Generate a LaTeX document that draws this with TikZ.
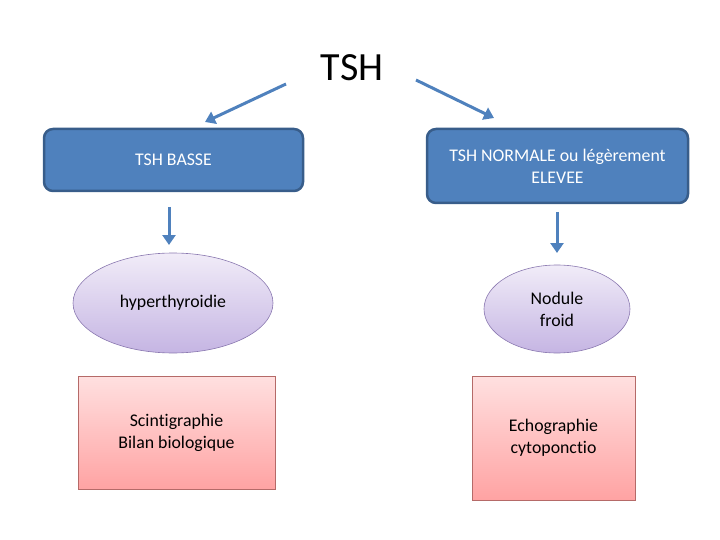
\documentclass[tikz,border=0pt]{standalone}
\usepackage{fontspec}
\setmainfont[Ligatures=NoCommon]{Carlito}
\usetikzlibrary{shapes.geometric,arrows.meta}
\definecolor{blueF}{HTML}{4F81BD}
\definecolor{blueD}{HTML}{385D8A}
\definecolor{lavT}{HTML}{F1ECF8}
\definecolor{lavB}{HTML}{C5B5E3}
\definecolor{lavD}{HTML}{8A78B0}
\definecolor{pinkT}{HTML}{FFE0E0}
\definecolor{pinkB}{HTML}{FFA3A3}
\definecolor{pinkD}{HTML}{B56A68}
\tikzset{
  topbox/.style={draw=blueD, line width=2.5pt, fill=blueF, rounded corners=9pt, text=white, align=center, font=\fontsize{17.8}{22}\selectfont, inner sep=0pt},
  ellbox/.style={ellipse, draw=lavD, line width=0.6pt, top color=lavT, bottom color=lavB, align=center, font=\fontsize{17.8}{22}\selectfont, inner sep=0pt},
  recbox/.style={draw=pinkD, line width=0.6pt, top color=pinkT, bottom color=pinkB, align=center, font=\fontsize{17.8}{22}\selectfont, inner sep=0pt},
  conn/.style={draw=blueF, line width=3pt, -{Triangle[length=10pt,width=13pt]}}
}
\begin{document}
\begin{tikzpicture}[x=1pt,y=-1pt]
\useasboundingbox (0,0) rectangle (720,540);
\node[font=\fontsize{40}{44}\selectfont] (tsh) at (352,68) {TSH};
\node[topbox, minimum width=259pt, minimum height=62pt] (basse) at (173.5,160) {TSH BASSE};
\node[topbox, minimum width=261pt, minimum height=74pt] (norm) at (557.5,166) {TSH NORMALE ou légèrement\\ELEVEE};
\node[ellbox, minimum width=200pt, minimum height=100pt] (hyper) at (173,303) {hyperthyroidie};
\node[ellbox, minimum width=146pt, minimum height=88pt] (nod) at (557,309) {Nodule\\froid};
\node[recbox, minimum width=197pt, minimum height=113pt] (scin) at (176.5,432.5) {Scintigraphie\\Bilan biologique};
\node[recbox, minimum width=163pt, minimum height=124pt] (echo) at (553.5,438) {Echographie\\cytoponctio};
\coordinate (a1s) at (286,84);
\coordinate (a1e) at (205,122);
\coordinate (a2s) at (416,80);
\coordinate (a2e) at (494,118);
\coordinate (d1s) at (169,207);
\coordinate (d1e) at (169,245);
\coordinate (d2s) at (557,212);
\coordinate (d2e) at (557,253);
\draw[conn] (a1s) -- (a1e);
\draw[conn] (a2s) -- (a2e);
\draw[conn] (d1s) -- (d1e);
\draw[conn] (d2s) -- (d2e);
\end{tikzpicture}
\end{document}
